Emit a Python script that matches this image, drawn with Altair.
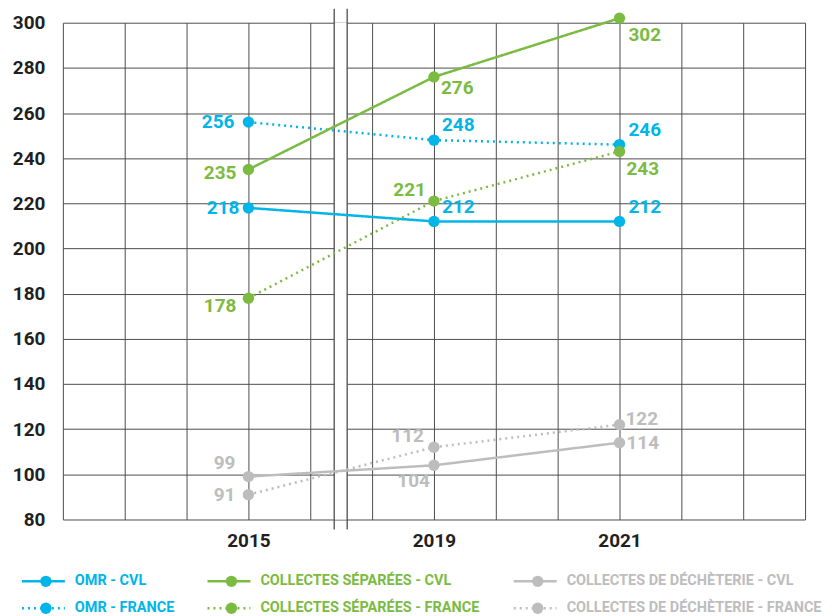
import altair as alt
import pandas as pd

# ---------------- data ----------------
years = ["2015", "2019", "2021"]
series = [
    "OMR - CVL",
    "OMR - FRANCE",
    "COLLECTES SÉPARÉES - CVL",
    "COLLECTES SÉPARÉES - FRANCE",
    "COLLECTES DE DÉCHÈTERIE - CVL",
    "COLLECTES DE DÉCHÈTERIE  - FRANCE",
]
omr_cvl = [218, 212, 212]
omr_fr = [256, 248, 246]
cs_cvl = [235, 276, 302]
cs_fr = [178, 221, 243]
dech_cvl = [99, 104, 114]
dech_fr = [91, 112, 122]
y_ticks = [80, 100, 120, 140, 160, 180, 200, 220, 240, 260, 280, 300]

values = [omr_cvl, omr_fr, cs_cvl, cs_fr, dech_cvl, dech_fr]

# ---------------- styles ----------------
BLUE = "#00B5E8"
GREEN = "#7BBB42"
GRAY = "#BDBDBD"
DARK = "#231F20"
GRID = "#4D4D4D"
FONT = "Roboto"
colors = [BLUE, BLUE, GREEN, GREEN, GRAY, GRAY]
SOLID = [1, 0]
DOTTED = [2, 4]
dashes = [SOLID, DOTTED, SOLID, DOTTED, SOLID, DOTTED]

# label placement per series / per year: (dx, dy, align)
label_style = [
    [(-9, 0, "right"), (8, -14, "left"), (9, -14, "left")],
    [(-14, 0, "right"), (8, -15, "left"), (9, -15, "left")],
    [(-12, 4, "right"), (7, 11, "left"), (9, 17, "left")],
    [(-12, 8, "right"), (-8, -11, "right"), (7, 18, "left")],
    [(-13, -14, "right"), (-4, 16, "right"), (7, 0, "left")],
    [(-13, 0, "right"), (-10, -11, "right"), (6, -6, "left")],
]

rows = []
for s, vals in zip(series, values):
    for i, (yr, v) in enumerate(zip(years, vals)):
        rows.append({"series": s, "year": yr, "slot": i, "value": v})
df = pd.DataFrame(rows)

W, H = 744, 498

grid_vals = [round(-1 + k / 3, 6) for k in range(13)]
label_expr = " : ".join(
    f"datum.value == {i} ? '{y}'" for i, y in enumerate(years)
) + " : ''"

x_enc = alt.X(
    "slot:Q",
    scale=alt.Scale(domain=[-1, 3], nice=False, zero=False),
    axis=alt.Axis(
        values=grid_vals,
        labelExpr=label_expr,
        grid=True,
        gridColor=GRID,
        gridWidth=1,
        ticks=False,
        domain=False,
        labelFont=FONT,
        labelFontSize=19,
        labelFontWeight="bold",
        labelColor=DARK,
        labelPadding=12,
        labelOverlap=False,
        labelFlush=False,
        title=None,
    ),
)
y_enc = alt.Y(
    "value:Q",
    scale=alt.Scale(domain=[80, 300], nice=False, zero=False),
    axis=alt.Axis(
        values=y_ticks,
        grid=True,
        gridColor=GRID,
        gridWidth=1,
        ticks=False,
        domain=False,
        labelFont=FONT,
        labelFontSize=19,
        labelFontWeight="bold",
        labelColor=DARK,
        labelPadding=18,
        title=None,
    ),
)
color_enc = alt.Color("series:N", scale=alt.Scale(domain=series, range=colors), legend=None)
dash_enc = alt.StrokeDash("series:N", scale=alt.Scale(domain=series, range=dashes), legend=None)

base = alt.Chart(df)
dummy = pd.DataFrame({"a": [0]})

# axis-break decoration
break_rect = alt.Chart(dummy).mark_rect(color="white").encode(
    x=alt.value(272), x2=alt.value(285), y=alt.value(0), y2=alt.value(H)
)
break_l = alt.Chart(dummy).mark_rule(color=GRID, strokeWidth=1.3).encode(
    x=alt.value(272), y=alt.value(-14), y2=alt.value(H + 10)
)
break_r = alt.Chart(dummy).mark_rule(color=GRID, strokeWidth=1.3).encode(
    x=alt.value(285), y=alt.value(-14), y2=alt.value(H + 10)
)

lines = base.mark_line(strokeWidth=2.5).encode(
    x=x_enc, y=y_enc, color=color_enc, strokeDash=dash_enc, detail="series:N"
)
points = base.mark_circle(size=130, opacity=1).encode(
    x="slot:Q", y="value:Q", color=color_enc
)

layers = [break_rect, break_l, break_r, lines, points]

for si, s in enumerate(series):
    for yi, yr in enumerate(years):
        dx, dy, al = label_style[si][yi]
        layers.append(
            base.transform_filter(
                (alt.datum.series == s) & (alt.datum.year == yr)
            )
            .mark_text(
                align=al, baseline="middle", dx=dx, dy=dy,
                font=FONT, fontSize=19, fontWeight="bold", color=colors[si],
            )
            .encode(x="slot:Q", y="value:Q", text="value:Q")
        )

# manual legend (3 columns x 2 rows)
col_x = [-41, 145, 452]
row_y = [560, 587]
for i, s in enumerate(series):
    x0 = col_x[i // 2]
    yy = row_y[i % 2]
    layers.append(
        alt.Chart(dummy).mark_rule(color=colors[i], strokeWidth=2.5, strokeDash=dashes[i]).encode(
            x=alt.value(x0), x2=alt.value(x0 + 43), y=alt.value(yy)
        )
    )
    layers.append(
        alt.Chart(dummy).mark_circle(color=colors[i], size=130, opacity=1).encode(
            x=alt.value(x0 + 24), y=alt.value(yy)
        )
    )
    layers.append(
        alt.Chart(dummy).mark_text(
            align="left", baseline="middle", font=FONT, fontSize=14.5,
            fontWeight="bold", color=colors[i],
        ).encode(x=alt.value(x0 + 53), y=alt.value(yy), text=alt.value(s))
    )

chart = (
    alt.layer(*layers)
    .properties(
        width=W,
        height=H,
        autosize=alt.AutoSizeParams(type="none"),
        padding={"left": 55, "top": 14, "right": 20, "bottom": 96},
        background="white",
    )
    .configure_view(stroke=None)
)

chart.save("out.html", embed_options={"renderer": "svg", "actions": False})
